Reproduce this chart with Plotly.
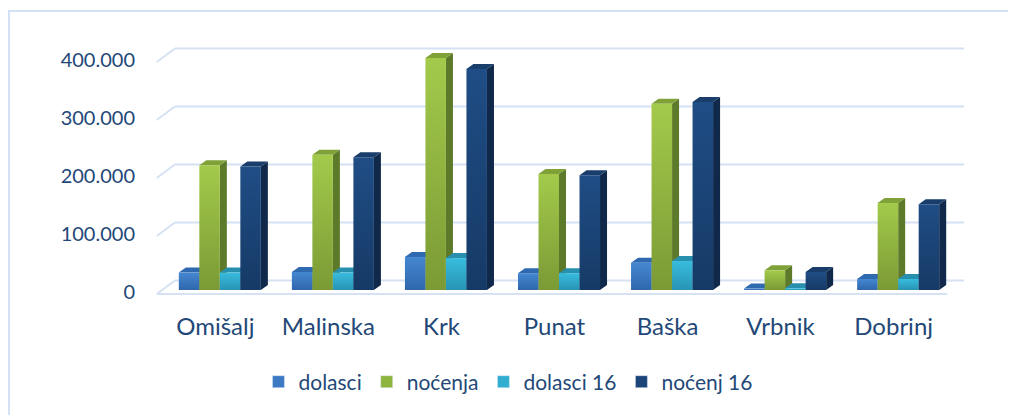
import plotly.graph_objects as go

categories = ["Omišalj", "Malinska", "Krk", "Punat", "Baška", "Vrbnik", "Dobrinj"]
series_names = ["dolasci", "noćenja", "dolasci 16", "noćenj 16"]
dolasci = [30000, 31000, 57000, 29000, 47000, 2500, 19000]
nocenja = [215000, 233000, 400000, 200000, 321000, 34000, 150000]
dolasci16 = [30000, 30000, 55000, 29000, 50000, 3000, 19000]
nocenj16 = [213000, 229000, 381000, 198000, 324000, 31000, 148000]
tick_values = [0, 100000, 200000, 300000, 400000]
tick_labels = ["0", "100.000", "200.000", "300.000", "400.000"]

series_values = [dolasci, nocenja, dolasci16, nocenj16]

# styles: (front bottom, front top, side, top)
styles = [
    ("#2F67AC", "#4587D2", "#275891", "#2F69B0"),
    ("#7B9A35", "#A3CA4B", "#5D7A2A", "#7FA138"),
    ("#2894B4", "#38BCDE", "#1D7E9A", "#2890AF"),
    ("#163A66", "#1F4D85", "#10284A", "#1A3E6C"),
]
legend_colors = ["#3C7AC4", "#8DB43F", "#31ADD0", "#1B4479"]

TEXT = "#234877"
GRID = "#D6E2F3"
FONT = "Lato"

bw = 0.1814       # bar front width (category units)
dx = 0.062        # depth x
dy = 8600         # depth y
front_off = -7000
back_off = 16500

fig = go.Figure()

n = len(categories)
for s, vals in enumerate(series_values):
    fb, ft, sc, tc = styles[s]
    sx, sy, tx, ty = [], [], [], []
    for i, v in enumerate(vals):
        x0 = i + (s - 2) * bw
        x1 = x0 + bw
        sx += [x1, x1, x1 + dx, x1 + dx, x1, None]
        sy += [0, v, v + dy, dy, 0, None]
        tx += [x0, x1, x1 + dx, x0 + dx, x0, None]
        ty += [v, v, v + dy, v + dy, v, None]
    fig.add_trace(go.Scatter(x=sx, y=sy, fill="toself", fillcolor=sc, mode="lines",
                             line=dict(width=0, color=sc), showlegend=False, hoverinfo="skip"))
    fig.add_trace(go.Scatter(x=tx, y=ty, fill="toself", fillcolor=tc, mode="lines",
                             line=dict(width=0, color=tc), showlegend=False, hoverinfo="skip"))
    for i, v in enumerate(vals):
        x0 = i + (s - 2) * bw
        x1 = x0 + bw
        fig.add_trace(go.Scatter(
            x=[x0, x1, x1, x0, x0], y=[0, 0, v, v, 0], fill="toself",
            fillgradient=dict(type="vertical", colorscale=[[0, fb], [1, ft]]),
            mode="lines", line=dict(width=0, color=fb), showlegend=False, hoverinfo="skip"))

for s, name in enumerate(series_names):
    fig.add_trace(go.Bar(x=[None], y=[None], name=name, marker_color=legend_colors[s]))

# gridlines (3D-like)
xl_front, xl_back, xr_back, xr_front = -0.558, -0.398, 6.584, 6.434
for t in tick_values:
    fig.add_shape(type="line", xref="x", yref="y", x0=xl_front, y0=t + front_off,
                  x1=xl_back, y1=t + back_off, line=dict(color=GRID, width=2), layer="below")
    fig.add_shape(type="line", xref="x", yref="y", x0=xl_back, y0=t + back_off,
                  x1=xr_back, y1=t + back_off, line=dict(color=GRID, width=2), layer="below")
fig.add_shape(type="line", xref="x", yref="y", x0=xl_front, y0=front_off,
              x1=xr_front, y1=front_off, line=dict(color=GRID, width=2), layer="below")

# outer border (page body adds 8px offset)
fig.add_shape(type="rect", xref="paper", yref="paper", x0=-143 / 814, y0=-1.5, x1=1.3,
              y1=1 + 19 / 280, line=dict(color="#D3E1F4", width=2),
              fillcolor="rgba(0,0,0,0)", layer="below")

fig.update_layout(
    width=1008, height=407,
    margin=dict(l=144, r=50, t=22, b=105),
    paper_bgcolor="white", plot_bgcolor="white",
    showlegend=True,
    legend=dict(orientation="h", xref="container", yref="container", x=0.496, y=0.081,
                xanchor="center", yanchor="middle", font=dict(family=FONT, size=21, color=TEXT),
                itemwidth=30, tracegroupgap=0),
    xaxis=dict(range=[-0.6, 6.6], showgrid=False, zeroline=False, showline=False,
               tickmode="array", tickvals=[i - 0.04 for i in range(n)], ticktext=categories,
               tickfont=dict(family=FONT, size=24, color=TEXT), ticks="", ticklen=0,
               ticklabelstandoff=0),
    yaxis=dict(range=[-34483, 448276], showgrid=False, zeroline=False, showline=False,
               tickmode="array", tickvals=[t - 4000 for t in tick_values], ticktext=tick_labels,
               tickfont=dict(family=FONT, size=20, color=TEXT), ticks="outside", ticklen=12,
               tickcolor="rgba(0,0,0,0)"),
    hovermode=False,
)

fig.write_html("out.html")
